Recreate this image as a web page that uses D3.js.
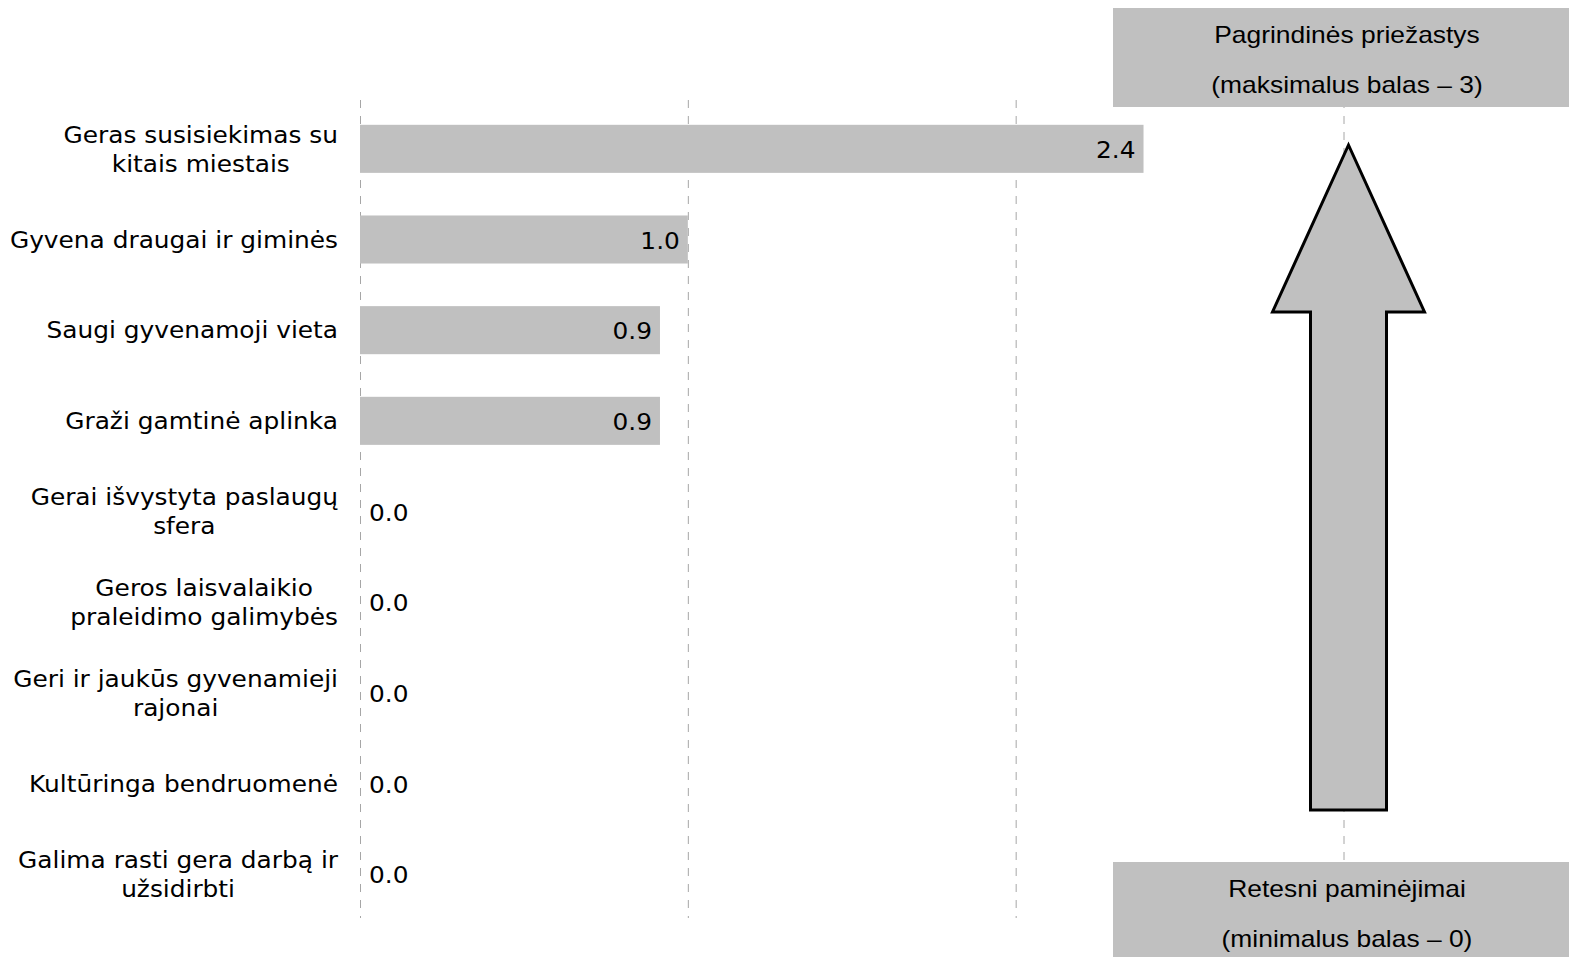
<!DOCTYPE html>
<html><head><meta charset="utf-8">
<script src="https://cdn.jsdelivr.net/npm/d3@7"></script>
<style>body{margin:0;background:#fff}svg{display:block}</style>
</head><body>
<svg id="c" width="1569" height="957"></svg>
<script>
const categories = [
  ["Geras susisiekimas su","kitais miestais"],
  ["Gyvena draugai ir giminės"],
  ["Saugi gyvenamoji vieta"],
  ["Graži gamtinė aplinka"],
  ["Gerai išvystyta paslaugų","sfera"],
  ["Geros laisvalaikio","praleidimo galimybės"],
  ["Geri ir jaukūs gyvenamieji","rajonai"],
  ["Kultūringa bendruomenė"],
  ["Galima rasti gera darbą ir","užsidirbti"]
];
const values = [2.39, 1.0, 0.915, 0.915, 0.0, 0.0, 0.0, 0.0, 0.0];
const xTicks = [0, 1, 2, 3];
const topBoxText = ["Pagrindinės priežastys", "(maksimalus balas – 3)"];
const bottomBoxText = ["Retesni paminėjimai", "(minimalus balas – 0)"];

const svg = d3.select("#c");
const grey = "#c0c0c0";
const labFont = "DejaVu Sans, Verdana, sans-serif";
const sx = 1.08;
const x = d3.scaleLinear().domain([0, 3]).range([360, 1343.5]);
const y = d3.scaleBand().domain(d3.range(categories.length)).range([103.5, 919.5]).paddingInner(0.47).paddingOuter(0.235);

// gridlines
svg.append("g").selectAll("line").data(xTicks).join("line")
  .attr("x1", d => x(d)+0.5).attr("x2", d => x(d)+0.5)
  .attr("y1", 100).attr("y2", 918)
  .attr("stroke", "#a6a6a6").attr("stroke-width", 1).attr("stroke-dasharray", "8,8");

// bars
svg.append("g").selectAll("rect").data(values).join("rect")
  .attr("x", x(0)).attr("y", (d,i) => y(i))
  .attr("width", d => x(d) - x(0)).attr("height", y.bandwidth())
  .attr("fill", grey);

// value labels
svg.append("g").selectAll("g").data(values).join("g")
  .attr("transform", (d,i) => `translate(${d > 0 ? x(d) - 8 : x(0) + 9},${y(i) + y.bandwidth()/2 + 1}) scale(${sx},1)`)
  .append("text")
  .attr("dy", "0.36em")
  .attr("text-anchor", d => d > 0 ? "end" : "start")
  .attr("font-family", labFont)
  .attr("font-size", 23).attr("fill", "#000")
  .text(d => d.toFixed(1));

// category labels
const lab = svg.append("g").attr("font-family", labFont)
  .attr("font-size", 23).attr("fill", "#000");
categories.forEach((lines, i) => {
  const cy = y(i) + y.bandwidth()/2;
  const g = lab.append("g").attr("transform", `translate(338,${cy}) scale(${sx},1)`);
  const ts = lines.map((l, j) => g.append("text")
    .attr("y", (j - (lines.length-1)/2) * 29)
    .attr("dy", "0.36em").attr("text-anchor", "middle").text(l));
  const w = d3.max(ts, t => t.node().getComputedTextLength());
  ts.forEach(t => t.attr("x", -w/2));
});

// boxes
function box(y0, h, lines) {
  svg.append("rect").attr("x", 1113).attr("y", y0).attr("width", 456).attr("height", h).attr("fill", grey);
  lines.forEach((l, j) => svg.append("g")
    .attr("transform", `translate(1347,${y0 + 27 + j*50}) scale(1.148,1)`)
    .append("text").attr("dy", "0.36em")
    .attr("text-anchor", "middle")
    .attr("font-family", "Liberation Sans, Arial, sans-serif")
    .attr("font-size", 23).attr("fill", "#000").text(l));
}
box(8, 99, topBoxText);
box(862, 100, bottomBoxText);

// arrow
const ax = x(3) + 5;
const arrow = d3.path();
arrow.moveTo(ax, 145);
arrow.lineTo(ax + 76, 312);
arrow.lineTo(ax + 38, 312);
arrow.lineTo(ax + 38, 810);
arrow.lineTo(ax - 38, 810);
arrow.lineTo(ax - 38, 312);
arrow.lineTo(ax - 76, 312);
arrow.closePath();
svg.append("path").attr("d", arrow.toString()).attr("fill", grey)
  .attr("stroke", "#000").attr("stroke-width", 3).attr("stroke-linejoin", "miter");
</script>
</body></html>
